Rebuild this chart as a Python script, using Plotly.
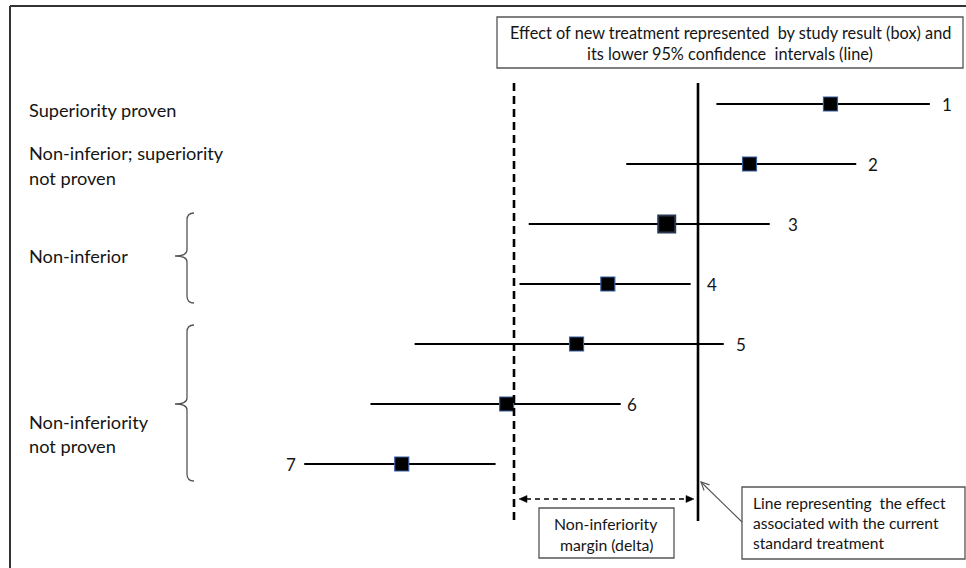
import math
import plotly.graph_objects as go

W, H = 966, 568

# ---- data (effect relative to current standard treatment = 0; margin delta = -1) ----
studies = [1, 2, 3, 4, 5, 6, 7]
estimate = [0.72, 0.28, -0.17, -0.49, -0.66, -1.04, -1.61]
lower = [0.10, -0.39, -0.92, -0.97, -1.54, -1.78, -2.14]
upper = [1.26, 0.86, 0.39, -0.04, 0.14, -0.42, -1.10]
study_labels = ["1", "2", "3", "4", "5", "6", "7"]
standard_effect = 0.0
margin_delta = -1.0

FONT = "Lato"
TXT = "#151515"


def fx(x):
    return x / W


def fy(y):
    return 1 - y / H


fig = go.Figure()

# reference lines (data coordinates)
fig.add_shape(type="line", xref="x", yref="y", x0=standard_effect, x1=standard_effect,
              y0=0.65, y1=7.95, line=dict(color="black", width=2.6))
fig.add_shape(type="line", xref="x", yref="y", x0=margin_delta, x1=margin_delta,
              y0=0.65, y1=7.95, line=dict(color="black", width=2.6, dash="8px,5px"))

# confidence lines + boxes
fig.add_trace(go.Scatter(
    x=estimate, y=studies, mode="markers",
    error_x=dict(type="data", symmetric=False,
                 array=[u - e for u, e in zip(upper, estimate)],
                 arrayminus=[e - l for e, l in zip(estimate, lower)],
                 color="black", thickness=2, width=0),
    marker=dict(symbol="square", color="black", opacity=1,
                size=[14, 14, 17, 14, 14, 14, 14],
                line=dict(color=["#3b5fa0", "#3b5fa0", "#2b3650", "#3b5fa0", "#3b5fa0", "#3b5fa0", "#3b5fa0"],
                          width=[1.2, 1.2, 2.0, 1.2, 1.2, 1.2, 1.2])),
    hoverinfo="skip", showlegend=False))

# study number labels
shifts = [10, 10, 16, 14, 10, 4, -6]
for s, lab, lo, hi, sh in zip(studies, study_labels, lower, upper, shifts):
    if s == 7:
        fig.add_annotation(x=lo, y=s, xref="x", yref="y", text=lab, showarrow=False,
                           xanchor="right", xshift=sh, font=dict(family=FONT, size=17, color=TXT))
    else:
        fig.add_annotation(x=hi, y=s, xref="x", yref="y", text=lab, showarrow=False,
                           xanchor="left", xshift=sh, font=dict(family=FONT, size=17, color=TXT))

shapes = []

# outer border (left and top)
shapes.append(dict(type="line", xref="paper", yref="paper", x0=fx(10), x1=fx(10), y0=fy(6), y1=fy(568),
                   line=dict(color="#333", width=2)))
shapes.append(dict(type="line", xref="paper", yref="paper", x0=fx(10), x1=fx(966), y0=fy(6), y1=fy(6),
                   line=dict(color="#333", width=2)))


def rect(x0, y0, x1, y1):
    shapes.append(dict(type="rect", xref="paper", yref="paper", x0=fx(x0), x1=fx(x1), y0=fy(y1), y1=fy(y0),
                       line=dict(color="#555", width=1.3), fillcolor="white"))


rect(497, 17, 963, 68)
rect(539, 508, 674, 558)
rect(742, 487, 965, 559)


def path(pts_cmds):
    out = []
    for c in pts_cmds:
        if isinstance(c, str):
            out.append(c)
        else:
            out.append(f"{fx(c[0]):.5f},{fy(c[1]):.5f}")
    return " ".join(out)


def brace(xv, xt, xe, y0, yt, y1):
    return path(["M", (xe, y0), "Q", (xv, y0), (xv, y0 + 7), "L", (xv, yt - 6),
                 "Q", (xv, yt), (xt, yt), "Q", (xv, yt), (xv, yt + 6),
                 "L", (xv, y1 - 7), "Q", (xv, y1), (xe, y1)])


for b in [(187, 175, 194, 213, 256, 303), (187, 175, 194, 325, 404, 481)]:
    shapes.append(dict(type="path", xref="paper", yref="paper", path=brace(*b),
                       line=dict(color="#555", width=1.3)))

# double dashed arrow (non-inferiority margin)
shapes.append(dict(type="line", xref="paper", yref="paper", x0=fx(526), x1=fx(688), y0=fy(499), y1=fy(499),
                   line=dict(color="black", width=1.6, dash="5px,4px")))
shapes.append(dict(type="path", xref="paper", yref="paper",
                   path=path(["M", (519, 499), "L", (527, 495.5), "L", (527, 502.5), "Z"]),
                   fillcolor="black", line=dict(color="black", width=0.5)))
shapes.append(dict(type="path", xref="paper", yref="paper",
                   path=path(["M", (694, 499), "L", (686, 495.5), "L", (686, 502.5), "Z"]),
                   fillcolor="black", line=dict(color="black", width=0.5)))

# callout arrow
tip = (701, 482)
tail = (742, 522)
dx, dy = tail[0] - tip[0], tail[1] - tip[1]
ang = math.atan2(dy, dx)
arms = []
for a in (ang - 0.45, ang + 0.45):
    arms.append((tip[0] + 9 * math.cos(a), tip[1] + 9 * math.sin(a)))
shapes.append(dict(type="path", xref="paper", yref="paper",
                   path=path(["M", tail, "L", tip]), line=dict(color="#555", width=1.1)))
shapes.append(dict(type="path", xref="paper", yref="paper",
                   path=path(["M", arms[0], "L", tip, "L", arms[1]]), line=dict(color="#555", width=1.1)))

fig.update_layout(shapes=list(fig.layout.shapes) + shapes)


def text(x, y, s, size, anchor="left"):
    fig.add_annotation(x=fx(x), y=fy(y), xref="paper", yref="paper", text=s, showarrow=False,
                       xanchor=anchor, yanchor="middle", font=dict(family=FONT, size=size, color=TXT))


# box texts
text(730, 33, "Effect of new treatment represented  by study result (box) and", 16.3, "center")
text(730, 53, "its lower 95% confidence  intervals (line)", 16.3, "center")
text(606, 523, "Non-inferiority", 15.8, "center")
text(606, 544, "margin (delta)", 15.8, "center")
text(751, 503, "Line representing  the effect", 15.6)
text(751, 523, "associated with the current", 15.6)
text(751, 543, "standard treatment", 15.6)

# left category labels
text(27, 110, "Superiority proven", 18.2)
text(27, 153, "Non-inferior; superiority", 18.2)
text(27, 178, "not proven", 18.2)
text(27, 256, "Non-inferior", 18.2)
text(27, 422, "Non-inferiority", 18.2)
text(27, 446, "not proven", 18.2)

fig.update_layout(
    width=W, height=H,
    margin=dict(l=0, r=0, t=0, b=0),
    paper_bgcolor="white", plot_bgcolor="white",
    xaxis=dict(range=[-698 / 184, 268 / 184], visible=False, showgrid=False, zeroline=False, fixedrange=True),
    yaxis=dict(range=[1 + (568 - 104) / 60, 1 - 104 / 60], visible=False, showgrid=False, zeroline=False,
               fixedrange=True),
    showlegend=False,
)

fig.write_html("out.html", config={"displayModeBar": False},
               post_script="document.body.style.margin='0px';document.body.style.overflow='hidden';")
